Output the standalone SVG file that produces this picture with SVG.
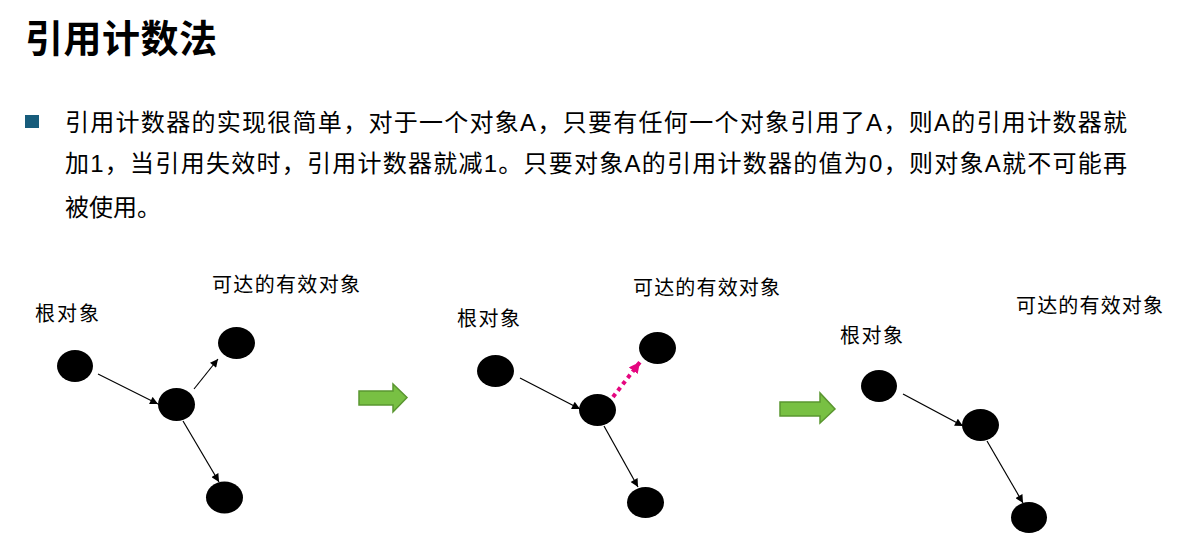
<svg xmlns="http://www.w3.org/2000/svg" width="1191" height="534" viewBox="0 0 1191 534">
<defs>
<style>
.t{font-family:'Liberation Sans','Noto Sans CJK SC',sans-serif;fill:#000}
.title{font-size:38px;font-weight:bold}
.body{font-size:24px}
.lbl{font-size:20px}
.node{fill:#000}
.edge{stroke:#000;stroke-width:1.2;fill:none;marker-end:url(#ah)}
.pink{stroke:#e5067f;stroke-width:4;stroke-dasharray:4 4;fill:none;marker-end:url(#ahp)}
.big{fill:#78c043;stroke:#5a9630;stroke-width:1.5}
</style>
<marker id="ah" viewBox="0 0 10 10" refX="10" refY="5" markerWidth="9" markerHeight="8" markerUnits="userSpaceOnUse" orient="auto">
<path d="M0,0 L10,5 L0,10 z" fill="#000"/>
</marker>
<marker id="ahp" viewBox="0 0 10 10" refX="10" refY="5" markerWidth="11" markerHeight="11" markerUnits="userSpaceOnUse" orient="auto">
<path d="M0,0 L10,5 L0,10 z" fill="#e5067f"/>
</marker>
</defs>
<rect width="1191" height="534" fill="#fff"/>
<g id="title"><text class="t title" x="25" y="52" textLength="192">引用计数法</text></g>
<g id="bullet-text">
<rect x="25" y="115" width="14" height="13" fill="#175c7b"/>
<text class="t body" x="65" y="131" textLength="1062" lengthAdjust="spacing">引用计数器的实现很简单，对于一个对象A，只要有任何一个对象引用了A，则A的引用计数器就</text>
<text class="t body" x="65" y="172" textLength="1062" lengthAdjust="spacing">加1，当引用失效时，引用计数器就减1。只要对象A的引用计数器的值为0，则对象A就不可能再</text>
<text class="t body" x="65" y="216">被使用。</text>
</g>
<g id="panel1">
<g id="p1-root-label"><text class="t lbl" x="35" y="321" textLength="64">根对象</text></g>
<g id="p1-reach-label"><text class="t lbl" x="212" y="292" textLength="148">可达的有效对象</text></g>
<g id="p1-root"><ellipse class="node" cx="75" cy="366" rx="18" ry="16"/></g>
<g id="p1-mid"><ellipse class="node" cx="176.5" cy="404.5" rx="18.5" ry="16.5"/></g>
<g id="p1-top"><ellipse class="node" cx="236.5" cy="343" rx="18.5" ry="16"/></g>
<g id="p1-bottom"><ellipse class="node" cx="224.5" cy="497.5" rx="18.5" ry="16"/></g>
</g>
<g id="panel2">
<g id="p2-root-label"><text class="t lbl" x="457" y="326" textLength="63">根对象</text></g>
<g id="p2-reach-label"><text class="t lbl" x="633" y="295" textLength="147">可达的有效对象</text></g>
<g id="p2-root"><ellipse class="node" cx="495.5" cy="371" rx="18.5" ry="16"/></g>
<g id="p2-mid"><ellipse class="node" cx="597.5" cy="410" rx="18.5" ry="16"/></g>
<g id="p2-top"><ellipse class="node" cx="657.5" cy="348" rx="18.5" ry="16"/></g>
<g id="p2-bottom"><ellipse class="node" cx="645.5" cy="502.5" rx="18.5" ry="15.5"/></g>
</g>
<g id="panel3">
<g id="p3-root-label"><text class="t lbl" x="840" y="343" textLength="63">根对象</text></g>
<g id="p3-reach-label"><text class="t lbl" x="1016" y="313" textLength="147">可达的有效对象</text></g>
<g id="p3-root"><ellipse class="node" cx="879" cy="386" rx="18" ry="16"/></g>
<g id="p3-mid"><ellipse class="node" cx="980.5" cy="425" rx="18.5" ry="16"/></g>
<g id="p3-bottom"><ellipse class="node" cx="1029" cy="517.5" rx="18" ry="15.5"/></g>
</g>
<g id="transition-arrows">
<path class="big" d="M359,391 L393,391 L393,384 L407,397.5 L393,412 L393,405 L359,405 z"/>
<path class="big" d="M780,402 L820,402 L820,393 L835,409 L820,423 L820,416 L780,416 z"/>
</g>
<g id="connectors">
<line class="edge" x1="98" y1="374" x2="158" y2="404"/>
<line class="edge" x1="194" y1="389" x2="218" y2="359"/>
<line class="edge" x1="183" y1="421" x2="219" y2="482"/>
<line class="edge" x1="520" y1="378" x2="580" y2="409"/>
<line class="pink" x1="613" y1="397" x2="640" y2="362"/>
<line class="edge" x1="604" y1="426" x2="638" y2="487"/>
<line class="edge" x1="903" y1="394" x2="963" y2="426"/>
<line class="edge" x1="987" y1="441" x2="1023" y2="503"/>
</g>
</svg>
